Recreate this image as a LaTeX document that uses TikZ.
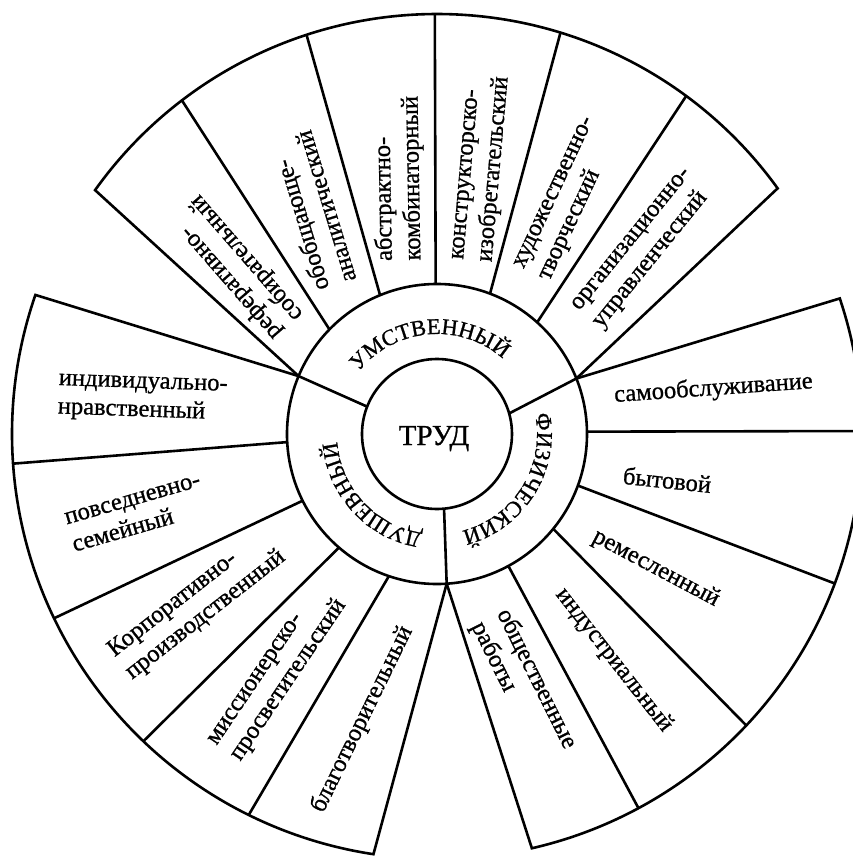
\documentclass[tikz,border=0pt]{standalone}
\usepackage{fontspec}
\setmainfont{Liberation Serif}[UprightFeatures={FakeBold=0.9}]
\usetikzlibrary{decorations.text}
\newcommand\grpfont{\fontsize{22.5}{26}\selectfont}
\begin{document}
\begin{tikzpicture}[x=1pt,y=1pt,line width=2.6pt,
  lab/.style={anchor=west, align=left, inner sep=0pt, font=\fontsize{24.5}{28.5}\selectfont}]
\useasboundingbox (-437,-423) rectangle (416,434);
\fill[white] (-437,-423) rectangle (416,434);
\clip (-437,-423) rectangle (416,434);

% centre and ring
\node[circle, draw, minimum size=150pt, inner sep=0pt] (core) at (0,0) {};
\draw (0,0) circle[radius=150];
\node[anchor=base, inner sep=0pt, font=\fontsize{29}{32}\selectfont] (trud) at (-3,-11) {ТРУД};

% ring dividers
\draw (158.6:75) -- (157.3:150) coordinate (pUL);
\draw (15.9:75) -- (21.7:150) coordinate (pR);
\draw (-84.6:75) -- (-86.3:150) coordinate (pB);

% top fan
\draw (pUL) -- (144.5:420) arc[start angle=144.5, end angle=35.8, radius=420] -- (pR);
\draw (135.8:150) -- (127.4:420);
\draw (112.3:150) -- (108.1:420);
\draw (90.5:150) -- (90.3:420);
\draw (69.3:150) -- (72.9:420);
\draw (48.1:150) -- (53.6:420);

% right fan
\draw (pR) -- (18.6:425) arc[start angle=18.6, end angle=-77.1, radius=425] -- (pB);
\draw (0.9:150) -- (0.4:425);
\draw (-20.1:150) -- (-20.6:425);
\draw (-39.2:150) -- (-43.3:425);
\draw (-61.6:150) -- (-61.7:425);

% left fan
\draw (pUL) -- (160.9:425) arc[start angle=160.9, end angle=261.4, radius=425] -- (pB);
\draw (183.1:150) -- (184:425);
\draw (206.4:150) -- (205.7:425);
\draw (229.2:150) -- (226.3:425);
\draw (251.3:150) -- (243.7:425);

% group labels on the ring
\path[decorate, decoration={text along path, text align=center, text={|\grpfont|УМСТВЕННЫЙ}}]
  (155:100) arc[start angle=155, end angle=35, radius=100];
\path[decorate, decoration={text along path, text align=center, text={|\grpfont|ФИЗИЧЕСКИЙ}}]
  (28:100) arc[start angle=28, end angle=-92, radius=100];
\path[decorate, decoration={text along path, text align=center, text={|\grpfont|ДУШЕВНЫЙ}}]
  (283:100) arc[start angle=283, end angle=163, radius=100];

% top fan labels
\node[lab, rotate=131] (t1) at (-148,106) {реферативно-\\собирательный};
\node[lab, rotate=107] (t2) at (-102,147) {обобщающе-\\аналитический};
\node[lab, rotate=91] (t3) at (-37,172) {абстрактно-\\комбинаторный};
\node[lab, rotate=85] (t4) at (37,172) {конструкторско-\\изобретательский};
\node[lab, rotate=65] (t5) at (96,159) {художественно-\\творческий};
\node[lab, rotate=51] (t6) at (150,115) {организационно-\\управленческий};

% right fan labels
\node[lab, rotate=4] (r1) at (176,38) {самообслуживание};
\node[lab, rotate=-6] (r2) at (185,-41) {бытовой};
\node[lab, rotate=-28] (r3) at (156,-101) {ремесленный};
\node[lab, rotate=-52] (r4) at (122,-156) {индустриальный};
\node[lab, rotate=-63.5] (r5) at (52,-182) {общественные\\работы};

% left fan labels
\node[lab, rotate=-2] (l1) at (-380,38) {индивидуально-\\нравственный};
\node[lab, rotate=16] (l2) at (-369,-99) {повседневно-\\семейный};
\node[lab, rotate=38] (l3) at (-318,-231) {Корпоративно-\\производственный};
\node[lab, rotate=56] (l4) at (-212,-319) {миссионерско-\\просветительский};
\node[lab, rotate=64] (l5) at (-120,-378) {благотворительный};
\end{tikzpicture}
\end{document}
